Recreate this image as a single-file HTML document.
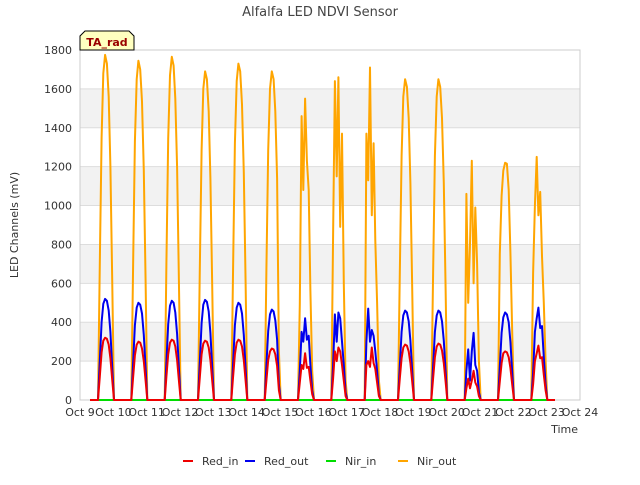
<!DOCTYPE html>
<html><head><meta charset="utf-8"><style>
body{margin:0;background:#fff;font-family:"Liberation Sans","DejaVu Sans",sans-serif}
svg text{font-family:"DejaVu Sans","Liberation Sans",sans-serif}
</style></head><body>
<svg id="c" width="640" height="480" viewBox="0 0 640 480">
<rect x="0" y="0" width="640" height="480" fill="#fff"/>
<text x="320" y="16" text-anchor="middle" font-size="13" fill="#444">Alfalfa LED NDVI Sensor</text>
<g id="bands"></g><g id="grid"></g>
<rect x="80" y="50" width="500" height="350" fill="none" stroke="#ccc"/>
<g id="yt"></g><g id="xt"></g><g id="series"></g>
<text transform="translate(18,225) rotate(-90)" text-anchor="middle" font-size="11" fill="#333">LED Channels (mV)</text>
<text x="578" y="433" text-anchor="end" font-size="11" fill="#333">Time</text>
<g>
<path d="M80,50 L80,36 L85,31 L129,31 L134,36 L134,50 Z" fill="#ffffc0" stroke="#000"/>
<text x="107" y="46" text-anchor="middle" font-size="11" font-weight="bold" fill="#900">TA_rad</text>
</g>
<g id="legend"></g>
</svg>
<script>
const yTicks=[0,200,400,600,800,1000,1200,1400,1600,1800];
const xTickLabels=["Oct 9","Oct 10","Oct 11","Oct 12","Oct 13","Oct 14","Oct 15","Oct 16","Oct 17","Oct 18","Oct 19","Oct 20","Oct 21","Oct 22","Oct 23","Oct 24"];
const dayOffsets=[0.54,0.593,0.647,0.70,0.753,0.807,0.86,0.913,0.967,1.02];
const nirOut=[
[0,700,1350,1680,1775,1730,1560,1200,620,0],
[0,690,1330,1650,1745,1700,1535,1180,610,0],
[0,700,1345,1670,1765,1720,1550,1195,615,0],
[0,670,1285,1600,1690,1650,1485,1140,590,0],
[0,685,1320,1640,1730,1690,1520,1170,605,0],
[0,670,1285,1600,1690,1650,1485,1140,250,0],
[0,490,1460,1080,1550,1230,1080,560,150,0],
[0,850,1640,1150,1660,890,1370,600,100,0],
[0,1370,1130,1710,950,1320,820,500,100,0],
[0,650,1255,1560,1650,1610,1450,1115,575,0],
[0,650,1255,1560,1650,1610,1450,1115,575,0],
[0,1060,500,800,1230,600,990,700,200,0],
[0,750,1050,1180,1220,1215,1080,760,350,0],
[0,650,1000,1250,950,1070,740,500,200,0]];
const redOut=[
[0,200,400,495,520,510,460,350,170,0],
[0,190,385,475,500,490,445,335,165,0],
[0,195,390,485,510,500,450,340,165,0],
[0,195,395,490,515,505,455,345,170,0],
[0,190,385,475,500,490,445,335,165,0],
[0,180,355,440,465,455,410,310,80,0],
[0,150,350,300,420,310,330,180,50,0],
[0,180,440,300,450,420,300,180,40,0],
[0,300,470,300,360,330,250,150,30,0],
[0,175,350,435,460,450,405,305,150,0],
[0,175,350,435,460,450,405,305,150,0],
[0,150,260,100,250,345,180,150,40,0],
[0,170,345,425,450,440,400,300,145,0],
[0,140,350,420,475,370,380,220,80,0]];
const redIn=[
[0,120,245,305,320,315,285,215,105,0],
[0,115,230,285,300,295,265,200,100,0],
[0,120,235,295,310,305,275,205,100,0],
[0,115,235,290,305,300,270,205,100,0],
[0,120,235,295,310,305,275,205,100,0],
[0,100,205,250,265,260,235,175,50,0],
[0,90,180,160,240,165,170,100,30,0],
[0,110,250,200,270,250,180,100,20,0],
[0,180,200,170,270,190,160,90,20,0],
[0,110,215,270,285,280,250,190,95,0],
[0,110,220,275,290,285,255,190,95,0],
[0,60,110,60,100,150,90,70,20,0],
[0,95,190,240,250,245,220,165,80,0],
[0,80,200,240,280,215,220,130,50,0]];
const nirIn=[0,0];
const dataStart=0.3, dataEnd=14.25;
const NS="http://www.w3.org/2000/svg";
const X=d=>80+d*500/15, Y=v=>400-v*350/1800;
function mk(t,a,p){const e=document.createElementNS(NS,t);for(const k in a)e.setAttribute(k,a[k]);p.appendChild(e);return e;}
const bands=document.getElementById('bands'),grid=document.getElementById('grid'),yt=document.getElementById('yt'),xt=document.getElementById('xt');
for(let i=0;i<yTicks.length-1;i++){if(i%2===1){const r=mk('rect',{x:80,y:Y(yTicks[i+1]),width:500,height:Y(yTicks[i])-Y(yTicks[i+1]),fill:'#f2f2f2'},bands);

}}
yTicks.forEach(v=>{const l=mk('line',{x1:80,x2:580,y1:Y(v),y2:Y(v),stroke:'#ddd'},grid);


const t=mk('text',{x:72,y:Y(v)+4,'text-anchor':'end','font-size':11,fill:'#333'},yt);t.textContent=v;

});
xTickLabels.forEach((s,i)=>{const t=mk('text',{x:X(i),y:416,'text-anchor':'middle','font-size':11,fill:'#333'},xt);t.textContent=s;

});
function pts(arr){const p=[[X(dataStart),Y(0)]];arr.forEach((day,d)=>day.forEach((v,j)=>p.push([X(d+dayOffsets[j]),Y(v)])));p.push([X(dataEnd),Y(0)]);return p.map(q=>q[0].toFixed(1)+','+q[1].toFixed(1)).join(' ');}
const ser=document.getElementById('series');
const nirInPts=[[X(dataStart),Y(nirIn[0])],[X(dataEnd),Y(nirIn[1])]].map(q=>q.join(',')).join(' ');
const list=[['nir-in-line','#00dd00',nirInPts],['nir-out-line','orange',pts(nirOut)],['red-out-line','#0000ee',pts(redOut)],['red-in-line','#ee0000',pts(redIn)]];
list.forEach(([n,c,p])=>{const l=mk('polyline',{points:p,fill:'none',stroke:c,'stroke-width':2,'stroke-linejoin':'round'},ser);

});
const leg=document.getElementById('legend');
[['Red_in','#ee0000',183],['Red_out','#0000ee',245],['Nir_in','#00dd00',326],['Nir_out','orange',398]].forEach(([s,c,x])=>{
const g=mk('g',{},leg);


mk('line',{x1:x,x2:x+10,y1:461,y2:461,stroke:c,'stroke-width':2},g);
const t=mk('text',{x:x+19,y:465,'font-size':11,fill:'#333'},g);t.textContent=s;});
</script>
</body></html>
